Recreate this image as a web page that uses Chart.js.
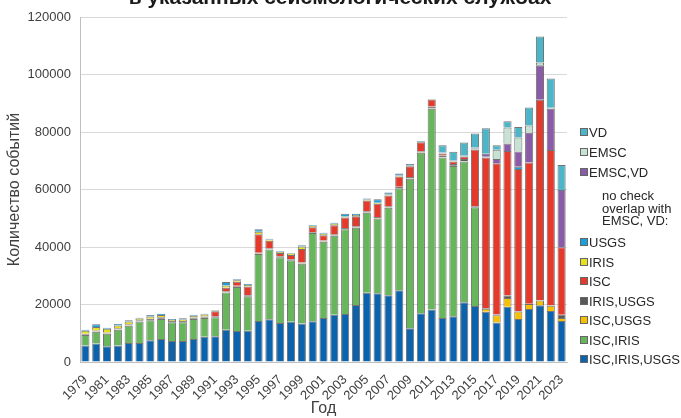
<!DOCTYPE html>
<html>
<head>
<meta charset="utf-8">
<script src="https://cdn.jsdelivr.net/npm/chart.js@4"></script>
<style>
  html, body { margin: 0; padding: 0; background: #ffffff; }
  #wrap { position: relative; width: 681px; height: 418px; overflow: hidden; font-family: "Liberation Sans", Arial, sans-serif; }
  #c { position: absolute; left: 0; top: 0; }
  .lg { position: absolute; left: 580px; font-size: 13px; color: #262626; line-height: 13px; white-space: nowrap; }
  .lg .bx { display: inline-block; width: 6px; height: 6px; border: 1px solid #666; margin-right: 1px; vertical-align: 1px; box-sizing: content-box; }
  .note { position: absolute; left: 602px; font-size: 13px; color: #262626; line-height: 12.5px; }
</style>
</head>
<body>
<div id="wrap">
  <canvas id="c" width="681" height="418"></canvas>
</div>
<script>
const titleText = "в указанных сейсмологических службах";
const yTitle = "Количество событий";
const xTitle = "Год";
const noteLines = ["no check", "overlap with", "EMSC, VD:"];

const years = [1979,1980,1981,1982,1983,1984,1985,1986,1987,1988,1989,1990,1991,1992,1993,1994,1995,1996,1997,1998,1999,2000,2001,2002,2003,2004,2005,2006,2007,2008,2009,2010,2011,2012,2013,2014,2015,2016,2017,2018,2019,2020,2021,2022,2023];
const yTicks = [0,20000,40000,60000,80000,100000,120000];

const iscIrisUsgs = [5700,6400,5450,5700,6600,6600,7550,8000,7300,7300,8000,8800,8950,11250,10800,10900,14300,14850,13550,14000,13350,14150,15300,16450,16700,19800,24100,23900,23200,25000,11700,17000,18300,15300,15900,20750,19500,17500,13700,19250,14950,18450,19700,17750,14250];
const iscIris = [3700,4150,4400,5550,6050,7450,6950,6950,6500,6500,6950,6500,6600,12950,15300,11950,23300,24300,22850,21350,20850,30700,26550,27450,29450,26900,27800,26050,30450,35400,52050,55800,69800,55850,52250,49000,34300,0,0,0,0,0,0,0,0];
const iscUsgs = [100,100,100,100,100,100,100,100,100,100,100,100,100,100,100,100,100,100,100,100,100,100,100,100,100,100,100,100,100,100,100,100,100,100,100,100,100,1000,2600,3000,2650,1700,1650,1850,1050];
const irisUsgs = [350,300,350,350,400,350,450,500,350,400,400,400,300,300,300,300,300,300,300,300,300,300,300,400,400,400,400,400,400,500,500,400,700,600,600,800,300,300,200,900,100,100,100,100,1150];
const isc = [0,0,0,0,0,0,0,0,0,0,0,0,1700,1200,1400,3000,6400,2600,1100,1500,4700,1600,1800,3200,3600,3500,3800,4600,3800,3500,3700,3100,2400,700,900,800,19700,52300,52600,50200,49400,49150,69750,54000,23500];
const iris = [1000,1200,1300,1000,900,600,800,800,400,500,600,700,300,800,500,500,900,500,400,450,900,550,600,500,400,400,300,300,300,400,300,200,100,100,100,100,100,100,0,0,0,0,0,0,0];
const usgs = [400,950,350,630,450,300,500,450,300,400,400,300,150,1200,350,350,900,250,200,200,400,250,350,350,950,500,400,1300,750,700,500,250,100,200,200,200,300,200,0,0,800,0,0,0,0];
const emscVd = [0,0,0,0,0,0,0,0,0,0,0,0,0,0,0,0,0,0,0,0,0,0,0,0,0,0,0,0,0,0,0,0,0,0,0,0,300,1000,1500,2650,5350,10350,12050,14400,19850];
const emsc = [0,0,0,0,0,0,0,0,0,0,0,0,0,0,0,0,0,0,0,0,0,0,0,0,0,0,0,0,0,0,0,0,0,0,0,0,0,0,3200,5600,4850,2550,950,300,0];
const vd = [0,0,0,0,0,0,0,0,0,0,0,0,0,0,0,0,0,0,0,0,0,0,0,0,0,0,0,0,0,0,0,0,0,2500,3050,4630,4900,8900,1600,2100,3600,6250,9050,10200,8700];

// stack order bottom -> top
const seriesNames = ["ISC,IRIS,USGS","ISC,IRIS","ISC,USGS","IRIS,USGS","ISC","IRIS","USGS","EMSC,VD","EMSC","VD"];
const seriesValues = [iscIrisUsgs, iscIris, iscUsgs, irisUsgs, isc, iris, usgs, emscVd, emsc, vd];
const seriesColors = ["#0b63ad","#67b65b","#f6c000","#595959","#e5392b","#e8e01a","#1ba0dc","#8a5ba6","#c5e2d3","#4db5c8"];

Chart.defaults.font.family = '"Liberation Sans", Arial, sans-serif';

const datasets = seriesNames.map((n, i) => ({
  label: n,
  data: seriesValues[i],
  backgroundColor: seriesColors[i],
  borderColor: "rgba(70,70,70,0.75)",
  borderWidth: 1,
  barPercentage: 0.75,
  categoryPercentage: 1.0
}));

const titlePlugin = {
  id: "topTitle",
  afterDraw(chart) {
    const c = chart.ctx;
    c.save();
    c.font = 'bold 21px "Liberation Sans", Arial, sans-serif';
    c.fillStyle = "#1a1a1a";
    c.textAlign = "center";
    c.textBaseline = "alphabetic";
    c.fillText(titleText, 340, 4);
    c.restore();
  }
};

new Chart(document.getElementById("c"), {
  type: "bar",
  data: { labels: years.map(String), datasets },
  plugins: [titlePlugin],
  options: {
    responsive: false,
    animation: false,
    devicePixelRatio: 1,
    layout: { padding: { left: 0, right: 114, top: 17, bottom: 0 } },
    plugins: { legend: { display: false }, tooltip: { enabled: false } },
    scales: {
      x: {
        stacked: true,
        afterFit: s => { s.height = 56; },
        grid: { display: false },
        border: { display: true, color: "#bfbfbf" },
        ticks: {
          autoSkip: false, maxRotation: 45, minRotation: 45, padding: 2,
          font: { size: 13 }, color: "#404040",
          callback: (v, i) => (i % 2 === 0 ? String(years[i]) : "")
        },
        title: { display: true, text: xTitle, font: { size: 16 }, color: "#404040", padding: { top: 0, bottom: 0 } }
      },
      y: {
        stacked: true,
        min: yTicks[0], max: yTicks[yTicks.length - 1],
        afterFit: s => { s.width = 80; },
        afterBuildTicks: s => { s.ticks = yTicks.map(v => ({ value: v })); },
        grid: { color: "#d9d9d9", drawTicks: false },
        border: { display: true, color: "#bfbfbf" },
        ticks: { font: { size: 13 }, color: "#404040", padding: 9, callback: v => String(v) },
        title: { display: true, text: yTitle, font: { size: 16 }, color: "#404040", padding: { top: 5, bottom: 0 } }
      }
    }
  }
});

// HTML legend (top -> bottom as in the reference)
const wrap = document.getElementById("wrap");
const legendTop = ["VD","EMSC","EMSC,VD"];
const legendBottom = ["USGS","IRIS","ISC","IRIS,USGS","ISC,USGS","ISC,IRIS","ISC,IRIS,USGS"];
function addItem(name, cy) {
  const i = seriesNames.indexOf(name);
  const d = document.createElement("div");
  d.className = "lg";
  d.style.top = (cy - 7) + "px";
  d.innerHTML = '<span class="bx" style="background:' + seriesColors[i] + '"></span>' + name;
  wrap.appendChild(d);
}
legendTop.forEach((n, k) => addItem(n, 133 + k * 20));
noteLines.forEach((t, k) => {
  const d = document.createElement("div");
  d.className = "note";
  d.style.top = (190 + k * 12.5) + "px";
  d.textContent = t;
  wrap.appendChild(d);
});
legendBottom.forEach((n, k) => addItem(n, 243 + k * 19.5));
</script>
</body>
</html>
